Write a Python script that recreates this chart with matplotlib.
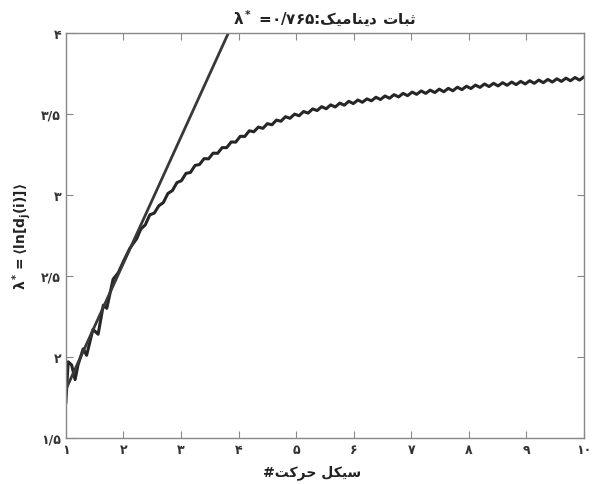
import numpy as np
import matplotlib
matplotlib.use("Agg")
import matplotlib.pyplot as plt

# early (irregular) part of the curve
early_x = [1.00, 1.04, 1.10, 1.16, 1.21, 1.30, 1.36, 1.47, 1.56, 1.65, 1.71,
           1.82, 1.91, 2.00, 2.11, 2.23]
early_y = [1.72, 1.97, 1.95, 1.86, 1.95, 2.05, 2.01, 2.17, 2.14, 2.32, 2.30,
           2.48, 2.52, 2.59, 2.67, 2.73]

# regular wiggly part, sampled evenly from x=2.3 to x=10
tail_y = [2.789, 2.815, 2.877, 2.888, 2.933, 2.953, 3.009, 3.027, 3.076, 3.088,
          3.133, 3.139, 3.182, 3.188, 3.224, 3.223, 3.258, 3.257, 3.292, 3.292,
          3.327, 3.326, 3.362, 3.361, 3.396, 3.390, 3.419, 3.411, 3.440, 3.433,
          3.462, 3.455, 3.483, 3.473, 3.499, 3.489, 3.515, 3.505, 3.531, 3.521,
          3.545, 3.532, 3.556, 3.543, 3.567, 3.554, 3.578, 3.564, 3.586, 3.572,
          3.593, 3.581, 3.603, 3.589, 3.611, 3.597, 3.619, 3.605, 3.627, 3.613,
          3.635, 3.621, 3.642, 3.627, 3.647, 3.632, 3.653, 3.637, 3.658, 3.643,
          3.665, 3.650, 3.671, 3.657, 3.678, 3.664, 3.685, 3.669, 3.689, 3.673,
          3.693, 3.677, 3.697, 3.681, 3.701, 3.685, 3.705, 3.689, 3.709, 3.693,
          3.713, 3.697, 3.717, 3.701, 3.721, 3.705, 3.725, 3.709, 3.729]
tail_x = np.linspace(2.3, 10.0, len(tail_y))

# fitted straight line (slope = lambda*)
line_x = [1.0, 3.9]
line_y = [1.80, 4.06]

xticks = [1, 2, 3, 4, 5, 6, 7, 8, 9, 10]
xtick_labels = ["۱", "۲", "۳", "۴", "۵", "۶", "۷", "۸", "۹", "۱۰"]
yticks = [1.5, 2.0, 2.5, 3.0, 3.5, 4.0]
ytick_labels = ["۱/۵", "۲", "۲/۵", "۳", "۳/۵", "۴"]

# persian text written in visual order with presentation forms (no shaping in matplotlib)
title_fa = "\uFB8F\uFEF4\uFEE3\uFE8E\uFEE8\uFEF3\uFEA9 \uFE95\uFE8E\uFE92\uFE9B"
title_txt = r"$\mathbf{\lambda^*}$ =" + "۰/۷۶۵:" + title_fa
xlabel_txt = "#" + "\uFE96\uFB90\uFEAE\uFEA3" + " " + "\uFEDE\uFB91\uFEF4\uFEB3"
ylabel_txt = r"$\mathbf{\lambda^* = \langle ln[d_j(i)]\rangle}$"

plt.rcParams['font.family'] = ['DejaVu Sans']
plt.rcParams['mathtext.fontset'] = 'dejavusans'

fig = plt.figure(figsize=(5.99, 4.85), dpi=100)
ax = fig.add_axes([0.110, 0.095, 0.865, 0.835])

ax.plot(early_x + list(tail_x), early_y + tail_y, color='#262626', linewidth=2.2,
        solid_joinstyle='round')
ax.plot(line_x, line_y, color='#383838', linewidth=2.0)

ax.set_xlim(1, 10)
ax.set_ylim(1.5, 4)
ax.set_xticks(xticks)
ax.set_xticklabels(xtick_labels, fontsize=9, fontweight='bold', color='#333333')
ax.set_yticks(yticks)
ax.set_yticklabels(ytick_labels, fontsize=9, fontweight='bold', color='#333333')
ax.tick_params(direction='in', top=True, right=True, length=5, color='#888888')
for s in ax.spines.values():
    s.set_color('#888888')
    s.set_linewidth(1.0)

ax.set_title(title_txt, fontsize=11, fontweight='bold', color='#222222', pad=7)
ax.set_xlabel(xlabel_txt, fontsize=10, fontweight='bold', color='#222222')
ax.xaxis.set_label_coords(0.475, -0.065)
ax.set_ylabel(ylabel_txt, fontsize=10, color='#222222', labelpad=6)

fig.savefig("out.png", dpi=100)
